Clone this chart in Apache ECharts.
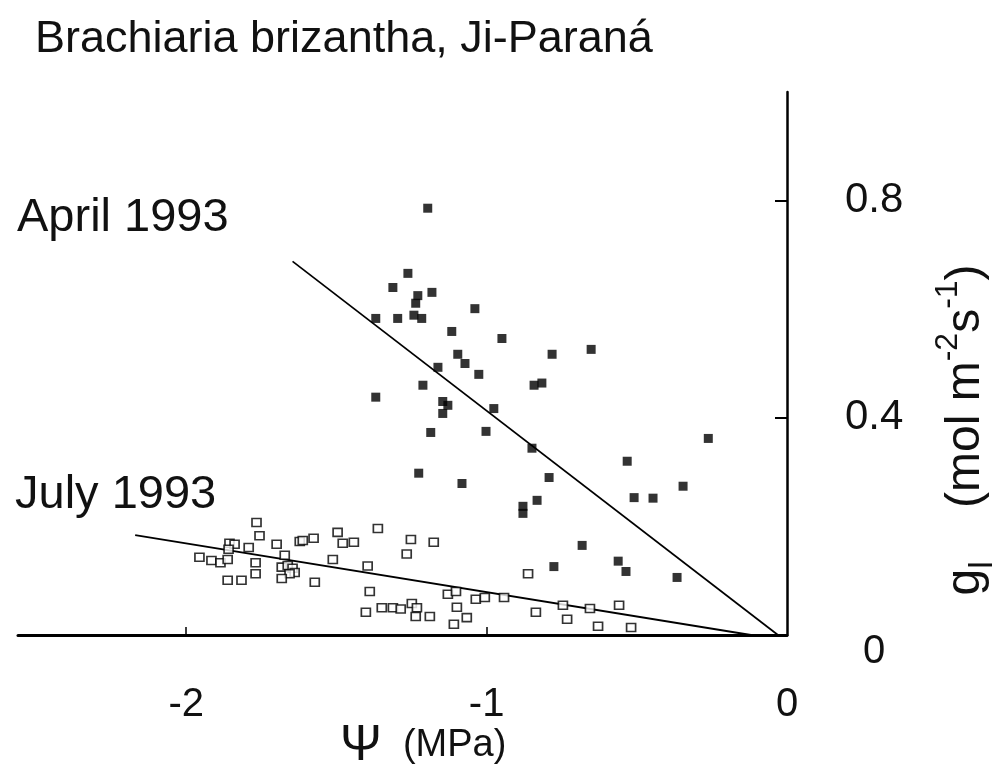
<!DOCTYPE html>
<html>
<head>
<meta charset="utf-8">
<script src="https://cdn.jsdelivr.net/npm/echarts@6/dist/echarts.min.js"></script>
<style>
  html, body { margin: 0; padding: 0; background: #ffffff; }
  #chart { width: 1001px; height: 769px; }
</style>
</head>
<body>
<div id="chart"></div>
<script>
// Leaf water potential (MPa) and leaf conductance g_l (mol m-2 s-1)
const aprilPsi = [-1.196, -1.262, -1.312, -1.229, -1.182, -1.236, -1.369, -1.296, -1.242, -1.216,
                  -1.039, -1.116, -0.949, -1.096, -1.072, -1.162, -1.026, -0.782, -0.842, -0.816,
                  -1.212, -1.369, -1.146, -1.129, -1.146, -0.976, -1.186, -1.002, -0.849, -0.792,
                  -1.226, -1.082, -0.879, -0.879, -0.832, -0.776, -0.652, -0.262, -0.532, -0.346,
                  -0.509, -0.446, -0.682, -0.562, -0.536, -0.366];
const aprilG   = [0.786, 0.666, 0.640, 0.625, 0.631, 0.611, 0.583, 0.583, 0.589, 0.583,
                  0.601, 0.559, 0.546, 0.517, 0.500, 0.493, 0.480, 0.517, 0.460, 0.464,
                  0.460, 0.438, 0.430, 0.423, 0.408, 0.417, 0.373, 0.375, 0.344, 0.290,
                  0.298, 0.279, 0.237, 0.224, 0.248, 0.126, 0.526, 0.362, 0.320, 0.274,
                  0.253, 0.252, 0.165, 0.136, 0.117, 0.106];

const julyPsi = [-1.766, -1.756, -1.856, -1.839, -1.792, -1.859, -1.699, -1.622, -1.612, -1.576,
                 -1.496, -1.479, -1.442, -1.362, -1.956, -1.916, -1.886, -1.862, -1.769, -1.769,
                 -1.862, -1.816, -1.672, -1.682, -1.662, -1.646, -1.639, -1.656, -1.682, -1.512,
                 -1.572, -1.396, -1.389, -1.252, -1.176, -1.266, -0.862, -1.402, -1.349, -1.312,
                 -1.286, -1.249, -1.232, -1.236, -1.189, -1.129, -1.102, -1.099, -1.066, -1.109,
                 -1.036, -1.006, -0.942, -0.836, -0.746, -0.732, -0.656, -0.629, -0.559, -0.519];
const julyG   = [0.207, 0.183, 0.169, 0.167, 0.161, 0.158, 0.167, 0.172, 0.174, 0.178,
                 0.189, 0.169, 0.171, 0.196, 0.143, 0.137, 0.133, 0.139, 0.133, 0.113,
                 0.101, 0.101, 0.147, 0.125, 0.128, 0.123, 0.115, 0.113, 0.104, 0.139,
                 0.097, 0.127, 0.080, 0.176, 0.171, 0.149, 0.113, 0.042, 0.050, 0.050,
                 0.048, 0.058, 0.050, 0.034, 0.034, 0.075, 0.080, 0.051, 0.032, 0.020,
                 0.066, 0.069, 0.069, 0.042, 0.055, 0.029, 0.049, 0.016, 0.055, 0.014];

// Fitted regression lines (end points)
const aprilFitPsi = [-1.646, -0.03];
const aprilFitG   = [0.688, 0.0];
const julyFitPsi  = [-2.17, -0.12];
const julyFitG    = [0.184, 0.0];

const xTickValues  = [-2, -1];
const xLabelValues = [-2, -1, 0];
const yTickValues  = [0.4, 0.8];
const yLabelValues = [0, 0.4, 0.8];

const FONT = "'Liberation Sans', Arial, Helvetica, sans-serif";
const INK = '#000000';

function pairs(xs, ys) { return xs.map((x, i) => [x, ys[i]]); }

const chart = echarts.init(document.getElementById('chart'), null, { renderer: 'canvas' });

chart.setOption({
  animation: false,
  backgroundColor: '#ffffff',
  title: {
    text: 'Brachiaria brizantha, Ji-Paraná',
    left: 30, top: 12,
    textStyle: { fontFamily: FONT, fontSize: 45, fontWeight: 'normal', color: '#111' }
  },
  grid: { left: 18, right: 214, top: 92, bottom: 134, containLabel: false },
  xAxis: {
    type: 'value', min: -2.56, max: 0,
    splitLine: { show: false },
    axisLine: { show: true, onZero: false, lineStyle: { color: INK, width: 3 } },
    axisTick: { show: true, inside: true, length: 8, customValues: xTickValues,
                lineStyle: { color: INK, width: 1.5 } },
    axisLabel: { customValues: xLabelValues, margin: 50, fontFamily: FONT, fontSize: 40, color: '#111',
                 formatter: v => String(v) }
  },
  yAxis: {
    type: 'value', position: 'right', min: 0, max: 1.0,
    splitLine: { show: false },
    axisLine: { show: true, onZero: false, lineStyle: { color: INK, width: 2.5 } },
    axisTick: { show: true, inside: true, length: 12, customValues: yTickValues,
                lineStyle: { color: INK, width: 2 } },
    axisLabel: {
      customValues: yLabelValues, margin: 58, fontFamily: FONT, fontSize: 42, color: '#111',
      formatter: v => (v === 0 ? '{zero|0}' : String(v)),
      rich: { zero: { fontFamily: FONT, fontSize: 40, color: '#111', padding: [34, 0, 0, 18] } }
    }
  },
  graphic: [
    { type: 'text', left: 17, top: 195, silent: true,
      style: { text: 'April 1993', font: '47px ' + FONT, fill: '#111' } },
    { type: 'text', left: 15, top: 472, silent: true,
      style: { text: 'July 1993', font: '47px ' + FONT, fill: '#111' } },
    { type: 'text', x: 340, y: 746, silent: true,
      style: {
        text: '{psi|Ψ}{t|  (MPa)}',
        verticalAlign: 'middle',
        rich: {
          psi: { font: '50px ' + FONT, fill: '#111', verticalAlign: 'middle' },
          t:   { font: '38px ' + FONT, fill: '#111', verticalAlign: 'middle' }
        }
      } },
    { type: 'text', x: 966, y: 430, rotation: Math.PI / 2, silent: true,
      style: {
        text: '{t|g}{sub|l}{t|    (mol m}{sup|-2}{t|s}{sup|-1}{t|)}',
        align: 'center', verticalAlign: 'middle',
        rich: {
          t:   { font: '48px ' + FONT, fill: '#111', lineHeight: 68, verticalAlign: 'middle' },
          sub: { font: '34px ' + FONT, fill: '#111', lineHeight: 68, verticalAlign: 'bottom' },
          sup: { font: '32px ' + FONT, fill: '#111', lineHeight: 68, verticalAlign: 'top' }
        }
      } }
  ],
  series: [
    {
      name: 'April 1993 fit', type: 'line', data: pairs(aprilFitPsi, aprilFitG),
      symbol: 'none', lineStyle: { color: INK, width: 1.7 }, z: 2
    },
    {
      name: 'July 1993 fit', type: 'line', data: pairs(julyFitPsi, julyFitG),
      symbol: 'none', lineStyle: { color: INK, width: 1.9 }, z: 2
    },
    {
      name: 'April 1993', type: 'scatter', data: pairs(aprilPsi, aprilG),
      symbol: 'rect', symbolSize: [9, 9],
      itemStyle: { color: INK }, z: 3
    },
    {
      name: 'July 1993', type: 'scatter', data: pairs(julyPsi, julyG),
      symbol: 'rect', symbolSize: [9, 8],
      itemStyle: { color: '#ffffff', borderColor: INK, borderWidth: 1.6 }, z: 3
    }
  ]
});
</script>
</body>
</html>
